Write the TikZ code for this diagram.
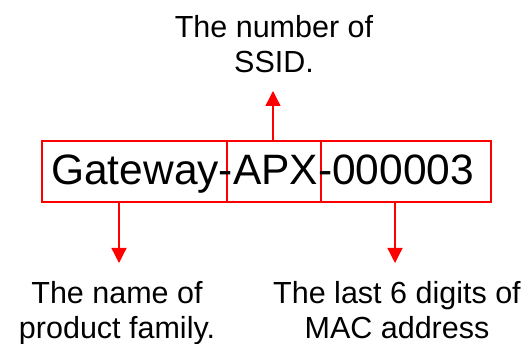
\documentclass[tikz,border=0pt]{standalone}
\usepackage{fontspec}
\setmainfont{Liberation Sans}
\usetikzlibrary{arrows.meta}
\definecolor{boxred}{RGB}{255,0,0}
\begin{document}
\begin{tikzpicture}[x=1pt,y=-1pt,
  part/.style={draw=boxred,line width=1.4pt,minimum height=61pt,inner sep=0pt},
  pointer/.style={draw=boxred,line width=1.3pt,-{Triangle[length=15pt,width=15pt]}},
  label/.style={align=center,anchor=north,font=\fontsize{30.5}{35}\selectfont,inner sep=0pt},
  ssid/.style={font=\fontsize{42.5}{48}\selectfont,inner sep=0pt}]
\useasboundingbox (0,0) rectangle (530,344);
% the three fields of the SSID
\node[part,minimum width=185pt] (fam) at (134.5,171.5) {};
\node[part,minimum width=94pt]  (num) at (274,171.5) {};
\node[part,minimum width=170pt] (mac) at (406,171.5) {};
\node[ssid,anchor=base west] (name) at (51,185) {Gateway-APX-000003};
% explanations
\node[label] (numtxt) at (274,15) {The number of\\SSID.};
\node[label] (famtxt) at (117,281) {The name of\\product family.};
\node[label] (mactxt) at (397,281) {The last 6 digits of\\MAC address};
\coordinate (numend) at (273,91);
\coordinate (famend) at (119,263);
\coordinate (macend) at (395,263);
\draw[pointer] (num.north -| numend) -- (numend);
\draw[pointer] (fam.south -| famend) -- (famend);
\draw[pointer] (mac.south -| macend) -- (macend);
\end{tikzpicture}
\end{document}
